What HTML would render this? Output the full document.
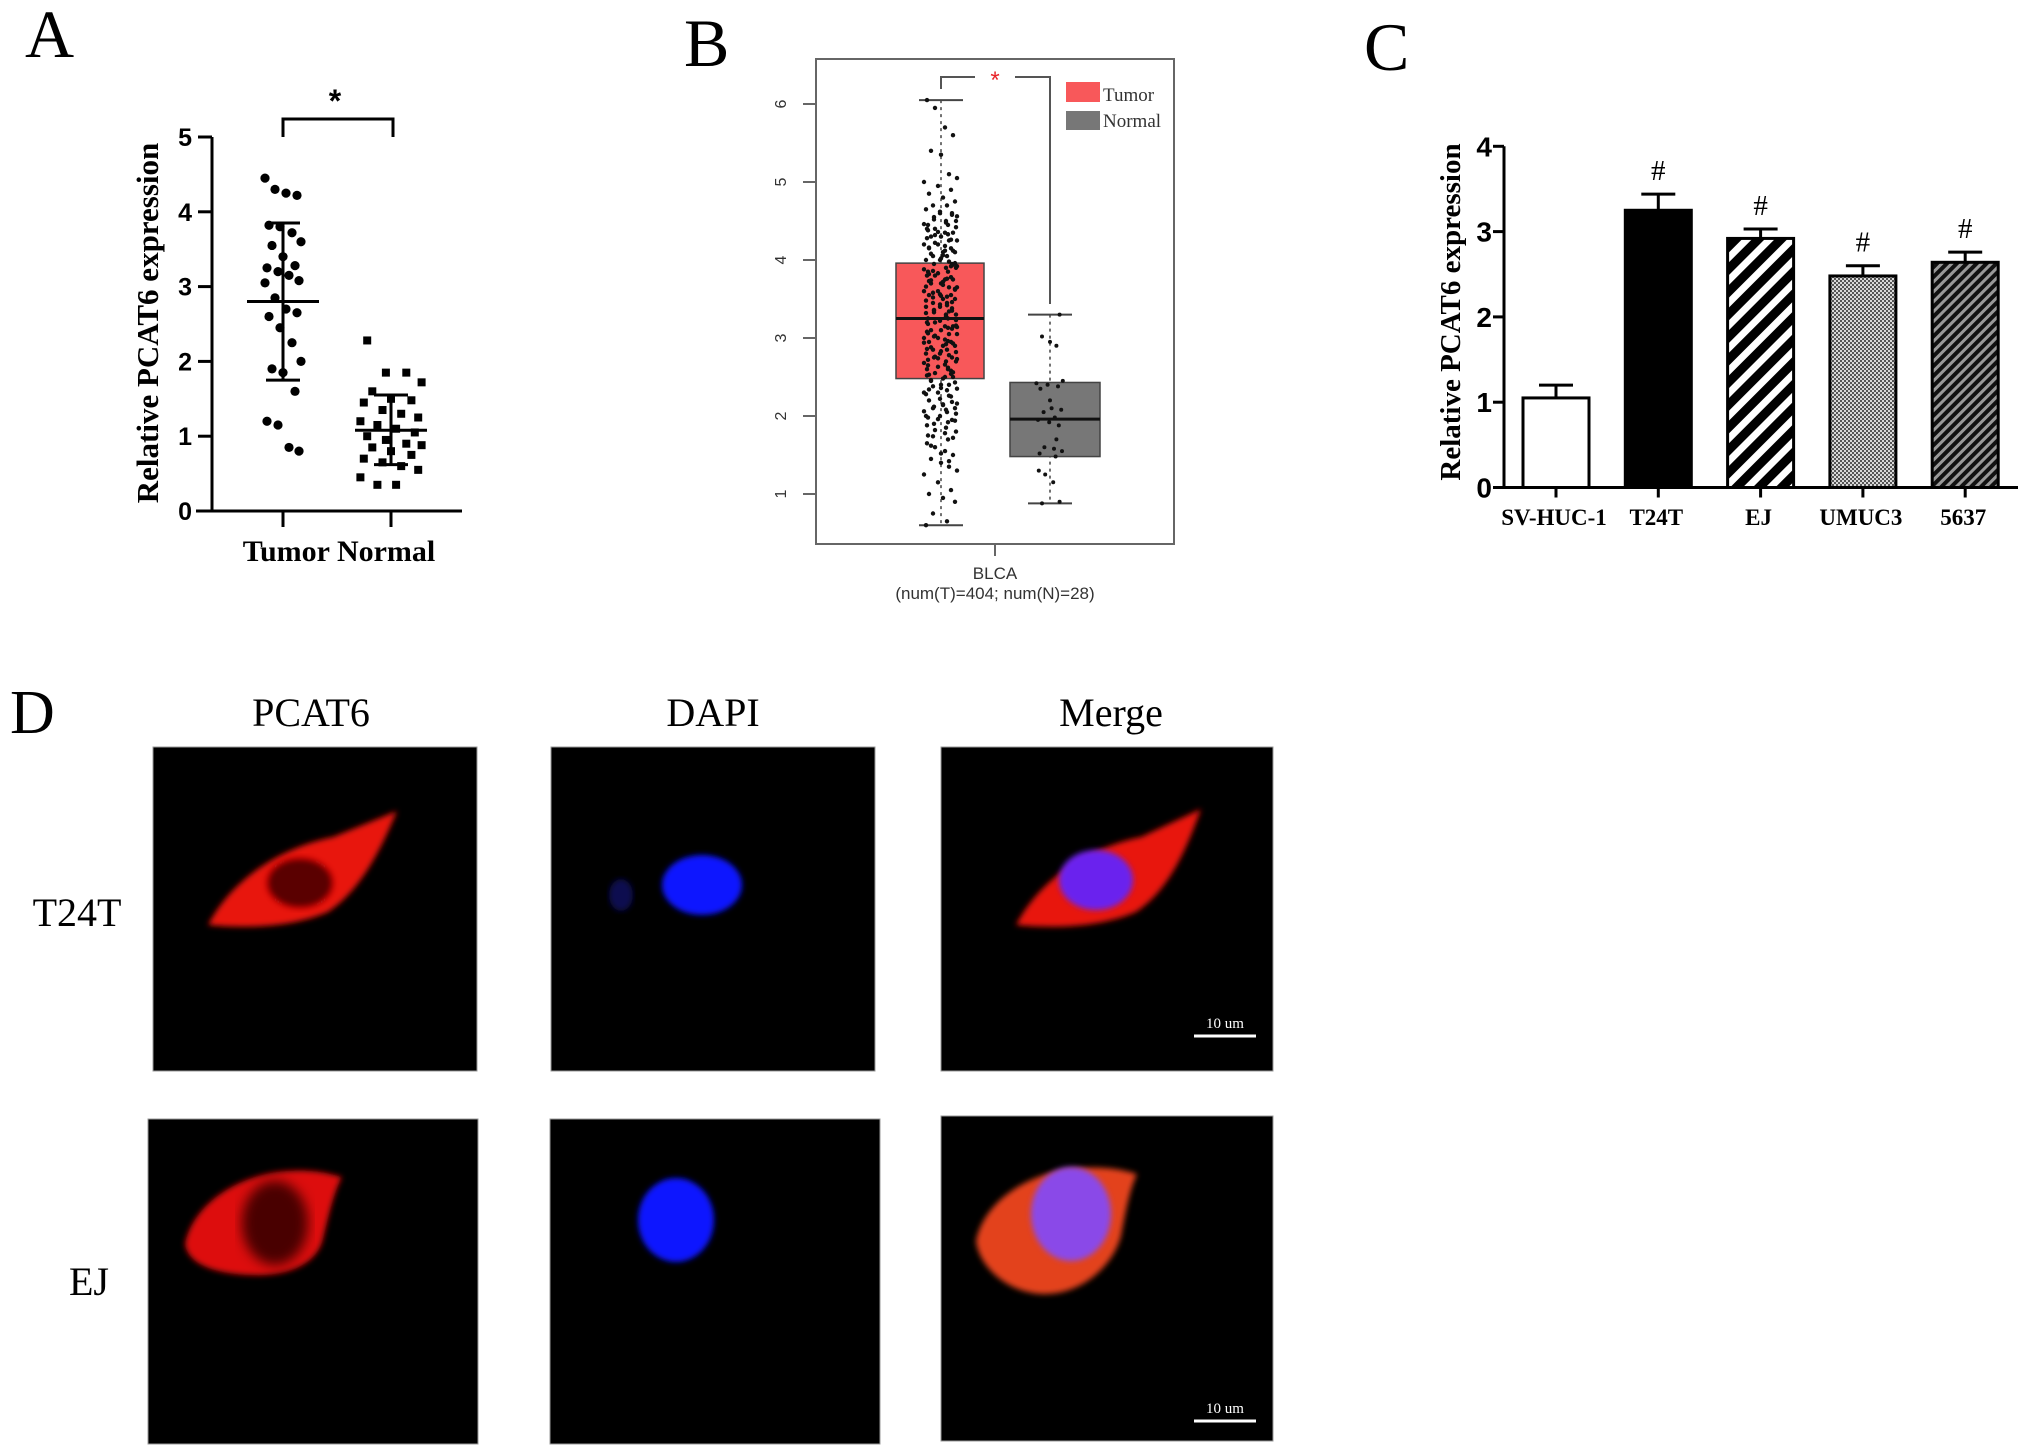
<!DOCTYPE html>
<html><head><meta charset="utf-8"><style>
html,body{margin:0;padding:0;background:#fff;}
svg{display:block;}
.serif{font-family:"Liberation Serif",serif;}
.sans{font-family:"Liberation Sans",sans-serif;}
</style></head><body>
<svg id="fig" width="2031" height="1455" viewBox="0 0 2031 1455" xmlns="http://www.w3.org/2000/svg">
<defs>
<pattern id="pEJ" patternUnits="userSpaceOnUse" width="16" height="16" patternTransform="rotate(45)"><rect width="16" height="16" fill="#fff"/><rect width="9" height="16" fill="#000"/></pattern>
<pattern id="pUM" patternUnits="userSpaceOnUse" width="4" height="4"><rect width="4" height="4" fill="#d8d8d8"/><rect width="2" height="2" fill="#555"/><rect x="2" y="2" width="2" height="2" fill="#555"/></pattern>
<pattern id="p56" patternUnits="userSpaceOnUse" width="7" height="7" patternTransform="rotate(45)"><rect width="7" height="7" fill="#999"/><rect width="4" height="7" fill="#111"/></pattern>
<filter id="blur3"><feGaussianBlur stdDeviation="3"/></filter>
<filter id="blur6"><feGaussianBlur stdDeviation="6"/></filter>
</defs>

<text class="serif" x="25" y="57" font-size="68">A</text>
<text class="serif" x="684" y="66" font-size="68">B</text>
<text class="serif" x="1364" y="70" font-size="68">C</text>
<text class="serif" x="10" y="733" font-size="62">D</text>

<g id="panelA"></g>
<g id="panelB"></g>
<g id="panelC"></g>

<g>
<text class="serif" x="311" y="726" font-size="40" text-anchor="middle">PCAT6</text>
<text class="serif" x="713" y="726" font-size="40" text-anchor="middle">DAPI</text>
<text class="serif" x="1111" y="726" font-size="40" text-anchor="middle">Merge</text>
<text class="serif" x="77" y="926" font-size="40" text-anchor="middle">T24T</text>
<text class="serif" x="89" y="1295" font-size="40" text-anchor="middle">EJ</text>

<g transform="translate(153,747)">
<rect width="324" height="324" fill="#000" stroke="#999" stroke-width="1"/>
<path d="M55,178 C80,130 130,100 180,90 L244,64 C225,110 205,145 175,165 C140,180 95,182 55,178 Z" fill="#e8120e" filter="url(#blur3)"/>
<ellipse cx="147" cy="136" rx="33" ry="25" fill="#5a0606" stroke="#c01010" stroke-width="3" filter="url(#blur3)"/>
</g>
<g transform="translate(551,747)">
<rect width="324" height="324" fill="#000" stroke="#999" stroke-width="1"/>
<ellipse cx="70" cy="148" rx="12" ry="16" fill="#080850" filter="url(#blur3)"/>
<ellipse cx="151" cy="138" rx="40" ry="30" fill="#0a14ff" filter="url(#blur3)"/>
</g>
<g transform="translate(941,747)">
<rect width="332" height="324" fill="#000" stroke="#999" stroke-width="1"/>
<path d="M75,178 C100,130 150,100 200,90 L260,62 C243,110 225,145 195,165 C160,180 115,182 75,178 Z" fill="#e8120e" filter="url(#blur3)"/>
<ellipse cx="155" cy="133" rx="37" ry="30" fill="#6a20ee" filter="url(#blur3)"/>
<line x1="253" y1="289" x2="315" y2="289" stroke="#fff" stroke-width="3"/>
<text class="serif" x="284" y="281" font-size="15" fill="#fff" text-anchor="middle">10 um</text>
</g>
<g transform="translate(148,1119)">
<rect width="330" height="325" fill="#000" stroke="#999" stroke-width="1"/>
<path d="M37,125 C45,85 90,55 140,52 C170,50 185,56 194,58 C185,75 180,100 175,120 C168,148 135,158 100,156 C65,154 40,145 37,125 Z" fill="#dd0e0c" filter="url(#blur3)"/>
<ellipse cx="127" cy="104" rx="33" ry="42" fill="#4a0606" filter="url(#blur6)"/>
</g>
<g transform="translate(550,1119)">
<rect width="330" height="325" fill="#000" stroke="#999" stroke-width="1"/>
<ellipse cx="126" cy="101" rx="38" ry="42" fill="#0a14ff" filter="url(#blur3)"/>
</g>
<g transform="translate(941,1116)">
<rect width="332" height="325" fill="#000" stroke="#999" stroke-width="1"/>
<path d="M35,125 C43,85 88,55 140,52 C172,50 188,56 196,58 C188,75 184,100 180,120 C172,150 140,180 100,178 C65,176 38,150 35,125 Z" fill="#e3421a" filter="url(#blur3)"/>
<ellipse cx="130" cy="98" rx="40" ry="47" fill="#8a4ae8" filter="url(#blur3)"/>
<line x1="253" y1="305" x2="315" y2="305" stroke="#fff" stroke-width="3"/>
<text class="serif" x="284" y="297" font-size="15" fill="#fff" text-anchor="middle">10 um</text>
</g>
</g>
</svg>

<script>
// ===== Panel A data =====
const aCategories = ["Tumor", "Normal"];
const aTumorValues = [4.45,4.3,4.25,4.22,3.82,3.8,3.72,3.6,3.55,3.4,3.28,3.25,3.2,3.15,3.08,3.05,2.85,2.7,2.65,2.6,2.45,2.25,2.0,1.9,1.85,1.6,1.2,1.15,0.85,0.8];
const aNormalValues = [2.28,1.85,1.85,1.72,1.6,1.5,1.48,1.45,1.35,1.3,1.25,1.2,1.15,1.1,1.05,1.0,0.95,0.9,0.88,0.85,0.8,0.75,0.7,0.65,0.6,0.55,0.45,0.35,0.35];
const aStats = [{mean:2.8, lo:1.75, hi:3.85},{mean:1.08, lo:0.62, hi:1.55}];
const aTicks = [0,1,2,3,4,5];

// ===== Panel B data =====
const bCategories = ["Tumor","Normal"];
const bBoxes = [{min:0.6,q1:2.48,med:3.25,q3:3.96,max:6.05},{min:0.88,q1:1.48,med:1.96,q3:2.43,max:3.3}];
const bTicks = [1,2,3,4,5,6];
const bTumorPoints = [6.05,5.95,5.7,5.6,5.4,5.35,5.1,5.05,5.0,4.95,4.9,4.85,4.8,4.75,4.7,4.7,4.65,4.6,4.6,4.55,4.5,4.5,4.45,4.45,4.4,4.4,4.35,4.35,4.3,4.3,4.25,4.25,4.2,4.2,4.15,4.15,4.1,4.1,4.05,4.05,4.0,4.0,3.95,3.95,3.9,3.9,3.85,3.85,3.8,3.8,3.75,3.75,3.7,3.7,3.65,3.65,3.6,3.6,3.55,3.55,3.5,3.5,3.45,3.45,3.4,3.4,3.35,3.35,3.3,3.3,3.25,3.25,3.2,3.2,3.15,3.15,3.1,3.1,3.05,3.05,3.0,3.0,2.95,2.95,2.9,2.9,2.85,2.85,2.8,2.8,2.75,2.75,2.7,2.7,2.65,2.6,2.6,2.55,2.5,2.5,2.45,2.4,2.4,2.35,2.3,2.3,2.25,2.2,2.15,2.1,2.1,2.05,2.0,2.0,1.95,1.9,1.85,1.8,1.75,1.7,1.65,1.6,1.55,1.5,1.45,1.4,1.35,1.3,1.25,1.15,1.05,1.0,0.95,0.9,0.75,0.65,0.6,
4.62,4.58,4.52,4.48,4.42,4.38,4.33,4.28,4.22,4.18,4.12,4.08,4.02,3.98,3.92,3.88,3.83,3.78,3.73,3.68,3.63,3.58,3.53,3.48,3.43,3.38,3.33,3.28,3.23,3.18,3.13,3.08,3.03,2.98,2.93,2.88,2.83,2.78,2.73,2.68,2.63,2.58,2.53,2.48,2.43,2.38,2.33,2.28,2.22,2.18,2.12,2.08,2.03,1.98,1.92,1.88,1.82,1.78,1.72,1.62,1.52,1.42,
4.56,4.46,4.36,4.26,4.16,4.06,3.96,3.86,3.76,3.66,3.56,3.46,3.36,3.26,3.16,3.06,2.96,2.86,2.76,2.66,2.56,2.46,2.36,2.26,2.16,2.06,1.96,3.92,3.82,3.72,3.62,3.52,3.42,3.32,3.22,3.12,3.02,2.92,2.82,2.72,2.62,2.52,4.32,4.12,3.94,3.74,3.54,3.34,3.14,2.94,2.74,2.54,2.34,2.14,1.94,1.74];
const bNormalPoints = [3.3,3.02,2.95,2.9,2.45,2.42,2.4,2.38,2.35,2.1,2.08,2.05,1.98,1.95,1.92,1.88,1.6,1.58,1.55,1.52,1.48,1.3,1.25,1.15,0.9,0.88,2.2,1.7];

// ===== Panel C data =====
const cCategories = ["SV-HUC-1","T24T","EJ","UMUC3","5637"];
const cValues = [1.05,3.25,2.92,2.48,2.64];
const cErrors = [0.15,0.19,0.11,0.12,0.12];
const cTicks = [0,1,2,3,4];
const cMarks = ["","#","#","#","#"];

const NS = "http://www.w3.org/2000/svg";
function mk(parent, tag, attrs, text){
  const el = document.createElementNS(NS, tag);
  for (const k in attrs) el.setAttribute(k, attrs[k]);
  if (text !== undefined) el.textContent = text;
  parent.appendChild(el);
  return el;
}

// ===== Panel A =====
(function(){
  const g = document.getElementById('panelA');
  const y = v => 511 - v*74.8;
  const xc = [283, 391];
  let el;
  el = mk(g,'line',{x1:212,y1:y(5),x2:212,y2:511,stroke:'#000','stroke-width':3});
  
  
  el = mk(g,'line',{x1:196,y1:511,x2:462,y2:511,stroke:'#000','stroke-width':3});
  
  
  aTicks.forEach(t=>{
    mk(g,'line',{x1:198,y1:y(t),x2:212,y2:y(t),stroke:'#000','stroke-width':3});
    el = mk(g,'text',{x:192,y:y(t)+9,'font-size':25,'font-weight':'bold','text-anchor':'end',class:'sans'}, String(t));
    
    
  });
  aCategories.forEach((c,i)=>{
    mk(g,'line',{x1:xc[i],y1:511,x2:xc[i],y2:527,stroke:'#000','stroke-width':3});
  });
  el = mk(g,'text',{x:339,y:561,'font-size':30,'font-weight':'bold','text-anchor':'middle',class:'serif'}, aCategories.join(' '));
  
  
  el = mk(g,'text',{x:0,y:0,'font-size':31,'font-weight':'bold','text-anchor':'middle',class:'serif',transform:'translate(158,323) rotate(-90)'}, 'Relative PCAT6  expression');
  
  
  el = mk(g,'path',{d:`M283,137 V119 H393 V137`,fill:'none',stroke:'#000','stroke-width':3});
  
  
  el = mk(g,'text',{x:335,y:112,'font-size':32,'font-weight':'bold','text-anchor':'middle',class:'sans'}, '*');
  
  
  const jit = [-18,-8,3,14,-14,-3,9,18,-11,0,12,-16,-5,6,16];
  aTumorValues.forEach((v,i)=>{
    const p = mk(g,'circle',{cx:xc[0]+jit[i%jit.length],cy:y(v),r:4.6,fill:'#000'});
    
    
  });
  aNormalValues.forEach((v,i)=>{
    const p = mk(g,'rect',{x:xc[1]+jit[(i+4)%jit.length]*1.7-4,y:y(v)-4,width:8,height:8,fill:'#000'});
    
    
  });
  aStats.forEach((s,i)=>{
    const x=xc[i];
    mk(g,'line',{x1:x-36,x2:x+36,y1:y(s.mean),y2:y(s.mean),stroke:'#000','stroke-width':3});
    mk(g,'line',{x1:x,x2:x,y1:y(s.lo),y2:y(s.hi),stroke:'#000','stroke-width':3});
    mk(g,'line',{x1:x-17,x2:x+17,y1:y(s.lo),y2:y(s.lo),stroke:'#000','stroke-width':3});
    el = mk(g,'line',{x1:x-17,x2:x+17,y1:y(s.hi),y2:y(s.hi),stroke:'#000','stroke-width':3});
    
    
  });
})();

// ===== Panel B =====
(function(){
  const g = document.getElementById('panelB');
  const y = v => 494 - (v-1)*78;
  const xc = [941,1050];
  const bw = [88,90];
  const colors = ['#f8585a','#777'];
  let el;
  el = mk(g,'rect',{x:816,y:59,width:358,height:485,fill:'none',stroke:'#666','stroke-width':2});
  
  
  bTicks.forEach(t=>{
    mk(g,'line',{x1:803,x2:816,y1:y(t),y2:y(t),stroke:'#666','stroke-width':2});
    el = mk(g,'text',{x:0,y:0,'font-size':16,fill:'#333','text-anchor':'middle',class:'sans',transform:`translate(786,${y(t)}) rotate(-90)`}, String(t));
    
    
  });
  bBoxes.forEach((b,i)=>{
    const x=xc[i];
    mk(g,'line',{x1:x,x2:x,y1:y(b.max),y2:y(b.min),stroke:'#444','stroke-width':1.5,'stroke-dasharray':'3,4'});
    mk(g,'line',{x1:x-22,x2:x+22,y1:y(b.max),y2:y(b.max),stroke:'#444','stroke-width':2});
    mk(g,'line',{x1:x-22,x2:x+22,y1:y(b.min),y2:y(b.min),stroke:'#444','stroke-width':2});
    el = mk(g,'rect',{x:x-bw[i]/2+(i===0?-1:5),y:y(b.q3),width:bw[i],height:y(b.q1)-y(b.q3),fill:colors[i],stroke:'#444','stroke-width':1.5});
    
    
  });
  const jit = [-14,-6,4,12,-10,0,8,16,-17,-3,10,-12,2,14,-8,6,-15,-1,11,-7,5,15,-13,7];
  bTumorPoints.forEach((v,i)=>{
    const p = mk(g,'circle',{cx:xc[0]+jit[i%jit.length],cy:y(v),r:2.2,fill:'#111'});
    
    
  });
  bNormalPoints.forEach((v,i)=>{
    const p = mk(g,'circle',{cx:xc[1]+jit[(i+3)%jit.length]*0.8,cy:y(v),r:2,fill:'#111'});
    
    
  });
  bBoxes.forEach((b,i)=>{
    const x=xc[i]+(i===0?-1:5);
    el = mk(g,'line',{x1:x-bw[i]/2,x2:x+bw[i]/2,y1:y(b.med),y2:y(b.med),stroke:'#111','stroke-width':3});
    
    
  });
  el = mk(g,'path',{d:`M941,89 V77 H975 M1015,77 H1050 V304`,fill:'none',stroke:'#555','stroke-width':2});
  
  
  el = mk(g,'text',{x:995,y:88,'font-size':24,fill:'#e8252a','text-anchor':'middle',class:'sans'}, '*');
  
  
  el = mk(g,'rect',{x:1066,y:82,width:34,height:20,fill:colors[0]});
  
  
  el = mk(g,'rect',{x:1066,y:111,width:34,height:19,fill:colors[1]});
  
  
  el = mk(g,'text',{x:1103,y:101,'font-size':19,fill:'#333',class:'serif'}, bCategories[0]);
  
  
  el = mk(g,'text',{x:1103,y:127,'font-size':19,fill:'#333',class:'serif'}, bCategories[1]);
  
  
  mk(g,'line',{x1:995,x2:995,y1:544,y2:556,stroke:'#666','stroke-width':2});
  el = mk(g,'text',{x:995,y:579,'font-size':17,fill:'#333','text-anchor':'middle',class:'sans'}, 'BLCA');
  
  
  el = mk(g,'text',{x:995,y:599,'font-size':17,fill:'#333','text-anchor':'middle',class:'sans'}, '(num(T)=404; num(N)=28)');
  
  
})();

// ===== Panel C =====
(function(){
  const g = document.getElementById('panelC');
  const y0 = 487.5, unit = 85.3;
  const y = v => y0 - v*unit;
  const x0 = 1556, step = 102.3, bw = 66;
  const xc = i => x0 + i*step;
  const fills = ['#fff','#000','url(#pEJ)','url(#pUM)','url(#p56)'];
  let el;
  el = mk(g,'line',{x1:1504,y1:y(4),x2:1504,y2:y0,stroke:'#000','stroke-width':3});
  
  
  el = mk(g,'line',{x1:1504,y1:y0,x2:2018,y2:y0,stroke:'#000','stroke-width':3});
  
  
  cTicks.forEach(t=>{
    mk(g,'line',{x1:1493,x2:1504,y1:y(t),y2:y(t),stroke:'#000','stroke-width':3});
    el = mk(g,'text',{x:1492,y:y(t)+10,'font-size':28,'font-weight':'bold','text-anchor':'end',class:'sans'}, String(t));
    
    
  });
  el = mk(g,'text',{x:0,y:0,'font-size':29,'font-weight':'bold','text-anchor':'middle',class:'serif',transform:'translate(1460,312) rotate(-90)'}, 'Relative PCAT6 expression');
  
  
  cCategories.forEach((c,i)=>{
    const x = xc(i), v = cValues[i], e = cErrors[i];
    mk(g,'line',{x1:x,x2:x,y1:y(v),y2:y(v+e),stroke:'#000','stroke-width':3});
    mk(g,'line',{x1:x-17,x2:x+17,y1:y(v+e),y2:y(v+e),stroke:'#000','stroke-width':3});
    el = mk(g,'rect',{x:x-bw/2,y:y(v),width:bw,height:y0-y(v),fill:fills[i],stroke:'#000','stroke-width':3});
    
    
    mk(g,'line',{x1:x,x2:x,y1:y0,y2:y0+10,stroke:'#000','stroke-width':3});
    el = mk(g,'text',{x:x-2,y:525,'font-size':23,'font-weight':'bold','text-anchor':'middle',class:'serif'}, c);
    
    
    if (cMarks[i]) {
      el = mk(g,'text',{x:x,y:y(v+e)-14,'font-size':29,'text-anchor':'middle',class:'serif'}, cMarks[i]);
      
      
    }
  });
})();
</script>
</body></html>
